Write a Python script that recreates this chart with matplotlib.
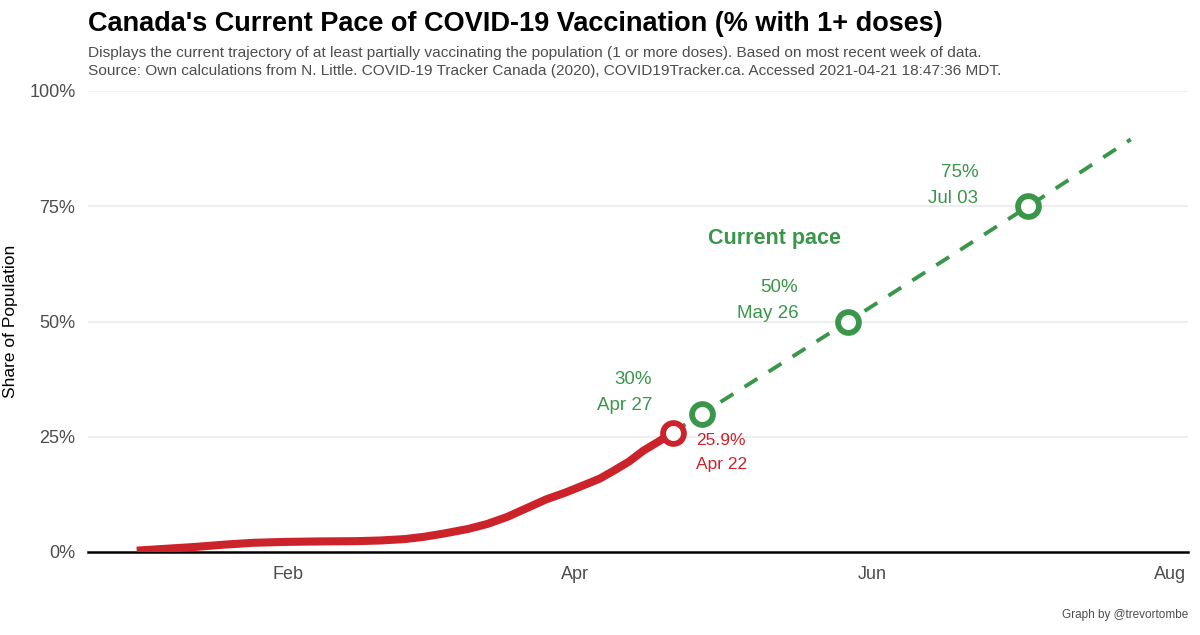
import numpy as np
import pandas as pd
import matplotlib
matplotlib.use("Agg")
import matplotlib.pyplot as plt
import matplotlib.dates as mdates

plt.rcParams['font.family'] = ['Liberation Sans', 'DejaVu Sans']

obs_dates = ["2021-01-01", "2021-01-07", "2021-01-13", "2021-01-19", "2021-01-25",
             "2021-02-01", "2021-02-08", "2021-02-15", "2021-02-20", "2021-02-25",
             "2021-03-01", "2021-03-05", "2021-03-10", "2021-03-14", "2021-03-18",
             "2021-03-22", "2021-03-26", "2021-03-30", "2021-04-03", "2021-04-06",
             "2021-04-09", "2021-04-12", "2021-04-15", "2021-04-18", "2021-04-21"]
obs_share = [0.3, 0.7, 1.1, 1.6, 2.0,
             2.2, 2.3, 2.35, 2.5, 2.8,
             3.3, 4.0, 5.0, 6.1, 7.6,
             9.5, 11.4, 12.9, 14.6, 15.9,
             17.7, 19.6, 22.0, 23.9, 25.9]

# projection at the current pace
proj_dates = ["2021-04-21", "2021-04-27", "2021-05-27", "2021-07-03", "2021-07-24"]
proj_share = [25.9, 30, 50, 75, 89.5]

# milestones
mile_dates = ["2021-04-27", "2021-05-27", "2021-07-03"]
mile_share = [30, 50, 75]
mile_labels = ["Apr 27", "May 26", "Jul 03"]
last_label = "Apr 22"

red = "#cc2229"
green = "#3a964b"

obs_x = pd.to_datetime(obs_dates)
proj_x = pd.to_datetime(proj_dates)
mile_x = pd.to_datetime(mile_dates)

fig = plt.figure(figsize=(12, 6.35), dpi=100)
ax = fig.add_axes([88/1200, 1-552/635, 1100/1200, 461/635])

for v in [25, 50, 75, 100]:
    ax.axhline(v, color="#ebebeb", lw=1.2, zorder=0)
ax.axhline(0, color="black", lw=1.8, zorder=1, clip_on=False)

ax.plot(proj_x, proj_share, color=green, lw=2.8, ls=(0, (3.9, 3.4)), zorder=2)
ax.plot(obs_x, obs_share, color=red, lw=5.8, solid_capstyle="butt",
        solid_joinstyle="round", zorder=3)

ax.plot(mile_x, mile_share, "o", ms=15, mfc="white", mec=green, mew=4.2, zorder=4)
ax.plot(obs_x[-1:], obs_share[-1:], "o", ms=15, mfc="white", mec=red, mew=4.2, zorder=4)

for x, y, lab in zip(mile_x, mile_share, mile_labels):
    ax.annotate("{}%\n{}".format(y, lab), (x, y), xytext=(-36, 15),
                textcoords="offset points", ha="right", va="center",
                color=green, fontsize=13.5, linespacing=1.7)

ax.annotate("{}%\n{}".format(obs_share[-1], last_label), (obs_x[-1], obs_share[-1]),
            xytext=(17, -14.5), textcoords="offset points", ha="left", va="center",
            color=red, fontsize=12.5, linespacing=1.75)

ax.text(0.6245, 0.679, "Current pace", transform=ax.transAxes, ha="center",
        va="center", color=green, fontsize=15.5, fontweight="bold")

ax.set_ylim(0, 100)
ax.set_xlim(pd.Timestamp("2020-12-22"), pd.Timestamp("2021-08-04 18:00"))
ax.set_yticks([0, 25, 50, 75, 100])
ax.set_yticklabels(["0%", "25%", "50%", "75%", "100%"])
ax.set_xticks(pd.to_datetime(["2021-02-01", "2021-04-01", "2021-06-01", "2021-08-01"]))
ax.xaxis.set_major_formatter(mdates.DateFormatter("%b"))
ax.tick_params(length=0, labelsize=13, colors="#4d4d4d", pad=9)
ax.tick_params(axis="x", pad=10)
for s in ax.spines.values():
    s.set_visible(False)
ax.set_ylabel("Share of Population", fontsize=12.5, labelpad=8)

fig.text(88/1200, 1-24/635, "Canada's Current Pace of COVID-19 Vaccination (% with 1+ doses)",
         fontsize=19.5, fontweight="bold", va="center", ha="left")
fig.text(88/1200, 1-62/635,
         "Displays the current trajectory of at least partially vaccinating the population (1 or more doses). Based on most recent week of data.\n"
         "Source: Own calculations from N. Little. COVID-19 Tracker Canada (2020), COVID19Tracker.ca. Accessed 2021-04-21 18:47:36 MDT.",
         fontsize=11.05, color="#4d4d4d", va="center", ha="left", linespacing=1.4)
fig.text(1188/1200, 1-615/635, "Graph by @trevortombe", fontsize=8.5, color="#4d4d4d",
         ha="right", va="center")

fig.savefig("out.png", dpi=100)
